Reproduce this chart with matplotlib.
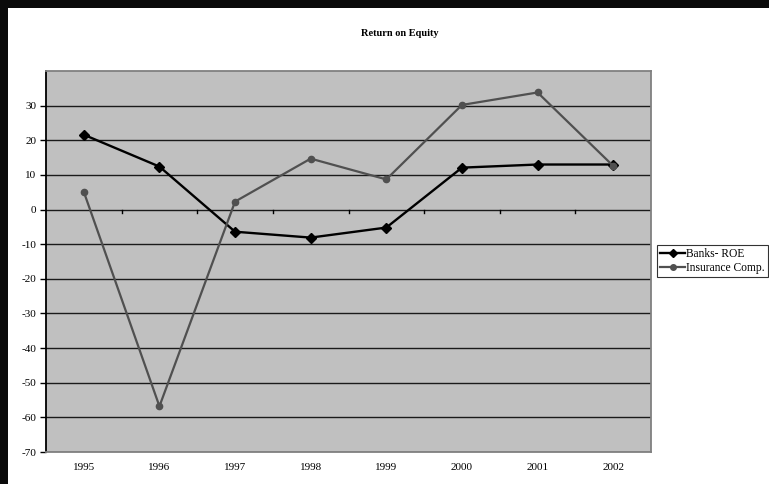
import matplotlib
matplotlib.use("Agg")
import matplotlib.pyplot as plt
from matplotlib.patches import Rectangle
from matplotlib.lines import Line2D

years = ["1995", "1996", "1997", "1998", "1999", "2000", "2001", "2002"]
banks_roe = [21.6, 12.4, -6.4, -8.1, -5.2, 12.1, 13.0, 13.0]
insurance = [5.1, -56.8, 2.3, 14.7, 8.7, 30.2, 33.8, 12.6]
yticks = [-70, -60, -50, -40, -30, -20, -10, 0, 10, 20, 30]

W, H = 769, 484
fig = plt.figure(figsize=(W / 100, H / 100), dpi=100)
fig.patch.set_facecolor("white")

# black frame at top and left
fig.patches.append(Rectangle((0, 1 - 8 / H), 1, 8 / H, transform=fig.transFigure,
                             facecolor="#0a0a0a", edgecolor="none", zorder=-1))
fig.patches.append(Rectangle((0, 0), 8 / W, 1, transform=fig.transFigure,
                             facecolor="#0a0a0a", edgecolor="none", zorder=-1))

left, right, top, bottom = 46, 651, 71, 452
ax = fig.add_axes([left / W, 1 - bottom / H, (right - left) / W, (bottom - top) / H])
ax.set_facecolor("#c0c0c0")

serif = ["Liberation Serif", "DejaVu Serif"]
x = list(range(len(years)))

ax.set_xlim(-0.5, len(years) - 0.5)
ax.set_ylim(-70, 40)
for v in yticks:
    ax.axhline(v, color="#1a1a1a", lw=1.0, zorder=1)

ax.plot(x, banks_roe, color="#000000", lw=1.7, marker="D", ms=5, zorder=3, label="Banks- ROE")
ax.plot(x, insurance, color="#505050", lw=1.6, marker="o", ms=4.5, zorder=3, label="Insurance Comp.")

# category boundary ticks on zero line
for b in range(1, len(years)):
    ax.plot([b - 0.5, b - 0.5], [0, -0.9], color="#000000", lw=1.0, zorder=2)

ax.set_yticks(yticks)
ax.set_yticklabels([str(v) for v in yticks], fontfamily=serif, fontsize=8)
ax.tick_params(axis="y", direction="out", length=4, width=1, pad=3, colors="#000000")
ax.set_xticks(x)
ax.set_xticklabels(years, fontfamily=serif, fontsize=8)
ax.tick_params(axis="x", length=0, pad=8)

ax.spines["left"].set_color("#000000")
ax.spines["left"].set_linewidth(1.3)
for s in ("top", "right", "bottom"):
    ax.spines[s].set_color("#808080")
    ax.spines[s].set_linewidth(1.3)

fig.text(400 / W, 1 - 34 / H, "Return on Equity", ha="center", va="center",
         fontfamily=serif, fontsize=7.5, fontweight="bold")

handles = [Line2D([], [], color="#000000", lw=1.7, marker="D", ms=4),
           Line2D([], [], color="#505050", lw=1.6, marker="o", ms=4)]
leg = fig.legend(handles, ["Banks- ROE", "Insurance Comp."], loc="upper left",
                 bbox_to_anchor=(657 / W, 1 - 245 / H), frameon=True, fancybox=False,
                 prop={"family": serif, "size": 8.3}, handlelength=2.2, handletextpad=0.1,
                 borderpad=0.25, labelspacing=0.2, borderaxespad=0)
leg.get_frame().set_edgecolor("#000000")
leg.get_frame().set_linewidth(0.8)

fig.savefig("out.png", dpi=100, facecolor="white")
